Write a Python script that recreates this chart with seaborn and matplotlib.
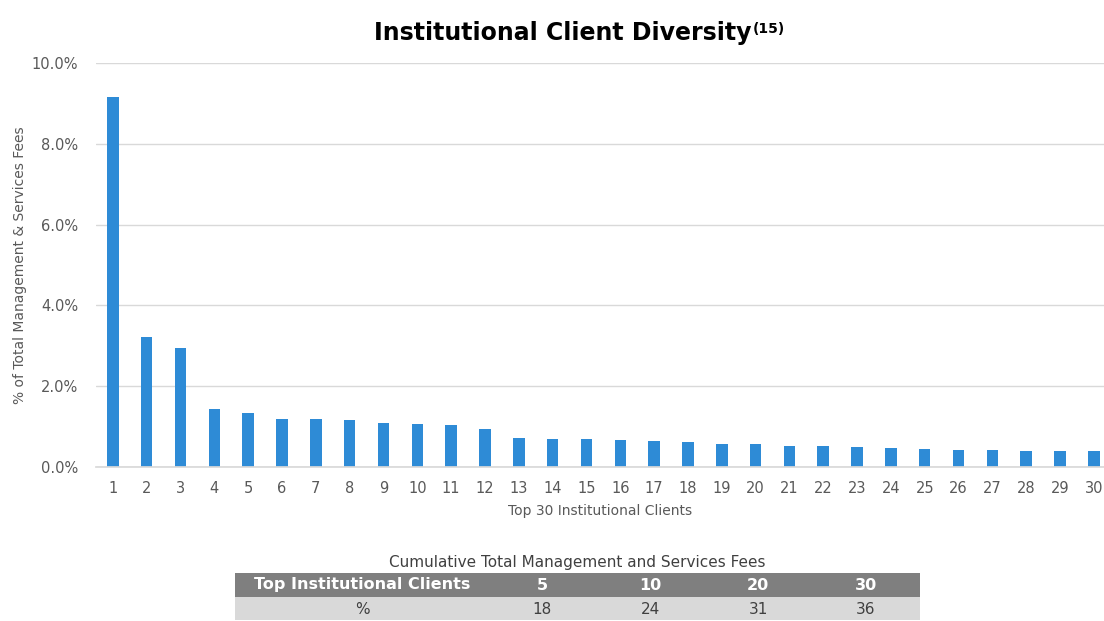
import matplotlib
matplotlib.use("Agg")
import matplotlib.pyplot as plt
import seaborn as sns
import pandas as pd
from matplotlib.patches import Rectangle
from matplotlib.ticker import FuncFormatter

# data
clients = [str(i) for i in range(1, 31)]
fee_share = [9.16, 3.22, 2.95, 1.44, 1.34, 1.19, 1.19, 1.16, 1.09, 1.06,
             1.04, 0.94, 0.71, 0.69, 0.69, 0.66, 0.64, 0.62, 0.58, 0.58,
             0.52, 0.52, 0.50, 0.47, 0.45, 0.42, 0.42, 0.40, 0.40, 0.40]

table_cols = ["5", "10", "20", "30"]
table_vals = ["18", "24", "31", "36"]

sns.set_theme(style="white")
plt.rcParams["font.family"] = ["DejaVu Sans"]

W, H = 1104, 621
fig = plt.figure(figsize=(W / 100, H / 100), dpi=100)
ax = fig.add_axes([96 / W, 1 - 467 / H, (W - 96) / W, (467 - 63) / H])

df = pd.DataFrame({"client": clients, "share": fee_share})
sns.barplot(data=df, x="client", y="share", color="#2E8BD6", saturation=1,
            width=0.34, linewidth=0, ax=ax)

ax.set_ylim(0, 10)
ax.set_xlim(-0.5, 29.3)
ax.set_yticks([0, 2, 4, 6, 8, 10])
ax.yaxis.set_major_formatter(FuncFormatter(lambda v, p: f"{v:.1f}%"))
ax.grid(axis="y", color="#D9D9D9", linewidth=1)
ax.set_axisbelow(True)
for s in ["top", "right", "left"]:
    ax.spines[s].set_visible(False)
ax.spines["bottom"].set_color("#D9D9D9")
ax.tick_params(axis="both", length=0, colors="#595959", labelsize=10.5)
ax.tick_params(axis="y", pad=13)
ax.tick_params(axis="x", pad=10)
ax.set_xlabel("Top 30 Institutional Clients", fontsize=10, color="#595959", labelpad=6)
ax.set_ylabel("% of Total Management & Services Fees", fontsize=10, color="#595959", labelpad=3)

# title with superscript footnote marker
fig.text(752 / W, 1 - 40 / H, "Institutional Client Diversity", ha="right",
         va="baseline", fontsize=17, fontweight="bold", color="black")
fig.text(753 / W, 1 - 33 / H, "(15)", ha="left", va="baseline",
         fontsize=10, fontweight="bold", color="black")

# summary table under the chart
fig.text(577 / W, 1 - 562 / H, "Cumulative Total Management and Services Fees",
         ha="center", va="center", fontsize=11, color="#404040")
fig.patches.append(Rectangle((235 / W, 1 - 597 / H), (920 - 235) / W, 24 / H,
                             transform=fig.transFigure, facecolor="#7F7F7F",
                             edgecolor="none"))
fig.patches.append(Rectangle((235 / W, 1 - 620 / H), (920 - 235) / W, 23 / H,
                             transform=fig.transFigure, facecolor="#D9D9D9",
                             edgecolor="none"))
fig.text(362 / W, 1 - 585 / H, "Top Institutional Clients", ha="center",
         va="center", fontsize=11.5, fontweight="bold", color="white")
fig.text(362 / W, 1 - 609 / H, "%", ha="center", va="center",
         fontsize=11, color="#404040")
col_x = [542, 650, 758, 866]
for cx, c, v in zip(col_x, table_cols, table_vals):
    fig.text(cx / W, 1 - 585 / H, c, ha="center", va="center",
             fontsize=11.5, fontweight="bold", color="white")
    fig.text(cx / W, 1 - 609 / H, v, ha="center", va="center",
             fontsize=11, color="#404040")

fig.savefig("out.png", dpi=100)
